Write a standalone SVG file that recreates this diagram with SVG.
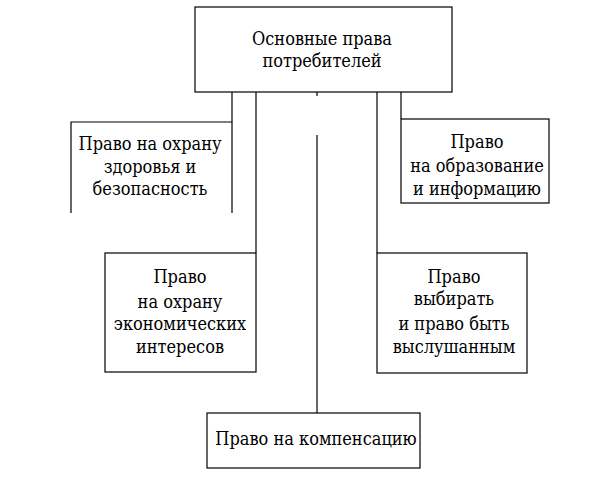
<svg xmlns="http://www.w3.org/2000/svg" width="614" height="491" viewBox="0 0 614 491">
<style>
.box{fill:#fff;stroke:#000;stroke-width:1.2}
.edge{fill:none;stroke:#000;stroke-width:1.2}
.t{font-family:'DejaVu Serif Condensed', 'DejaVu Serif', serif;font-stretch:condensed;font-size:18px;fill:#000;text-anchor:middle}
</style>
<rect width="614" height="491" fill="#fff"/>
<g id="connectors">
<line class="edge" x1="232" y1="92" x2="232" y2="122"/>
<line class="edge" x1="256" y1="92" x2="256" y2="253"/>
<line class="edge" x1="317" y1="92" x2="317" y2="96"/>
<line class="edge" x1="317" y1="135" x2="317" y2="413"/>
<line class="edge" x1="377" y1="92" x2="377" y2="253"/>
<line class="edge" x1="401" y1="92" x2="401" y2="119"/>
</g>
<g id="root">
<rect class="box" x="195" y="7" width="257" height="85"/>
<text class="t" x="322" y="45">Основные права</text>
<text class="t" x="322" y="67">потребителей</text>
</g>
<g id="health">
<path class="edge" d="M71,213 V122 H232 V213"/>
<text class="t" x="150" y="150">Право на охрану</text>
<text class="t" x="150" y="173">здоровья и</text>
<text class="t" x="150" y="195">безопасность</text>
</g>
<g id="education">
<rect class="box" x="401" y="119" width="148" height="84"/>
<text class="t" x="477" y="148">Право</text>
<text class="t" x="477" y="172">на образование</text>
<text class="t" x="477" y="195">и информацию</text>
</g>
<g id="economic">
<rect class="box" x="105" y="253" width="151" height="119"/>
<text class="t" x="180" y="283">Право</text>
<text class="t" x="180" y="308">на охрану</text>
<text class="t" x="180" y="330">экономических</text>
<text class="t" x="180" y="353">интересов</text>
</g>
<g id="choice">
<rect class="box" x="377" y="253" width="150" height="120"/>
<text class="t" x="454" y="283">Право</text>
<text class="t" x="454" y="305">выбирать</text>
<text class="t" x="454" y="330">и право быть</text>
<text class="t" x="454" y="353">выслушанным</text>
</g>
<g id="compensation">
<rect class="box" x="207" y="413" width="213" height="55"/>
<text class="t" x="316" y="445">Право на компенсацию</text>
</g>
</svg>
